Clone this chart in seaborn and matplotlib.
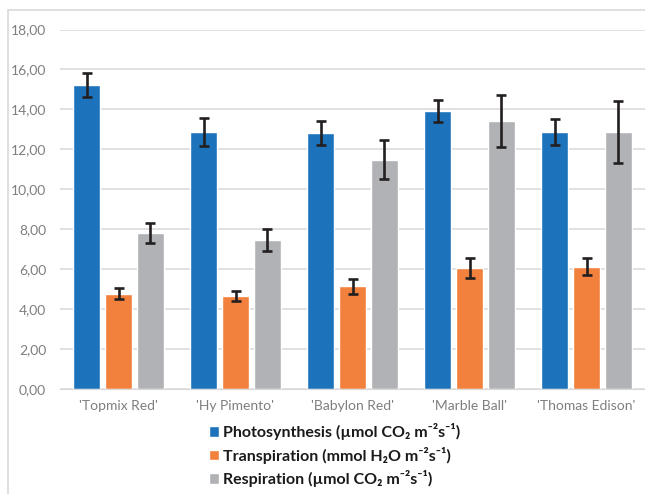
import pandas as pd
import matplotlib.pyplot as plt
import seaborn as sns
from matplotlib.patches import Rectangle

# -----------------------------
# Data
# -----------------------------
cultivars = ["'Topmix Red'", "'Hy Pimento'", "'Babylon Red'", "'Marble Ball'", "'Thomas Edison'"]
series = ["Photosynthesis (\u00b5mol CO\u2082 m\u207b\u00b2s\u207b\u00b9)",
          "Transpiration (mmol H\u2082O m\u207b\u00b2s\u207b\u00b9)",
          "Respiration (\u00b5mol CO\u2082 m\u207b\u00b2s\u207b\u00b9)"]

photosynthesis = [15.22, 12.85, 12.82, 13.92, 12.88]
transpiration = [4.78, 4.66, 5.15, 6.04, 6.13]
respiration = [7.82, 7.44, 11.49, 13.41, 12.88]

photo_err = [0.62, 0.70, 0.60, 0.55, 0.65]
trans_err = [0.28, 0.26, 0.38, 0.50, 0.42]
resp_err = [0.50, 0.55, 0.96, 1.30, 1.55]

colors = ["#1c73bb", "#f3813e", "#b1b2b5"]

# long table for seaborn
df = pd.DataFrame({
    "Cultivar": cultivars * 3,
    "Series": [s for s in series for _ in cultivars],
    "Value": photosynthesis + transpiration + respiration,
})
errors = [photo_err, trans_err, resp_err]

# -----------------------------
# Plot
# -----------------------------
sns.set_style("white")
plt.rcParams['font.family'] = ['Lato', 'DejaVu Sans']

fig = plt.figure(figsize=(6.45, 4.94), dpi=100)
ax = fig.add_axes([60 / 645, 1 - 389 / 494, 1 - 60 / 645, (389 - 29.5) / 494])

sns.barplot(data=df, x="Cultivar", y="Value", hue="Series", palette=colors,
            width=0.82, gap=0.15, errorbar=None, ax=ax, saturation=1)

# custom error bars on top of each bar
for cont, err in zip(ax.containers, errors):
    xs = [p.get_x() + p.get_width() / 2 for p in cont.patches]
    ys = [p.get_height() for p in cont.patches]
    ax.errorbar(xs, ys, yerr=err, fmt="none", ecolor="#231f20",
                elinewidth=1.9, capsize=3.4, capthick=1.9, zorder=5)

ax.set_ylim(0, 18)
ax.set_xlim(-0.5, 4.5)
ax.set_yticks(range(0, 19, 2))
ax.set_yticklabels([f"{v:.2f}".replace(".", ",") for v in range(0, 19, 2)])
ax.yaxis.grid(True, color="#d9d9d9", linewidth=1.1)
ax.set_axisbelow(True)
ax.set_xlabel("")
ax.set_ylabel("")
for s in ["top", "right", "left"]:
    ax.spines[s].set_visible(False)
ax.spines["bottom"].set_color("#d9d9d9")
ax.tick_params(axis="both", length=0, labelsize=10, labelcolor="#7f7f7f")
ax.tick_params(axis="y", pad=10)
ax.tick_params(axis="x", pad=8)

# legend below the plot
handles, labels = ax.get_legend_handles_labels()
ax.legend(handles, labels, loc="upper left", bbox_to_anchor=(209 / 645, 1 - 423 / 494),
          bbox_transform=fig.transFigure, frameon=False, ncol=1,
          prop={"weight": "bold", "size": 11.5}, labelcolor="#1a1a1a",
          handlelength=0.65, handleheight=0.65, handletextpad=0.25, labelspacing=0.42,
          borderaxespad=0, borderpad=0)

# light chart border (left and top visible)
fig.patches.append(Rectangle((8 / 645, -0.1), 1.2, 1 - 10 / 494 + 0.1,
                             transform=fig.transFigure, fill=False,
                             edgecolor="#d9d9d9", linewidth=1.2, zorder=0))

fig.savefig("out.png", dpi=100)
